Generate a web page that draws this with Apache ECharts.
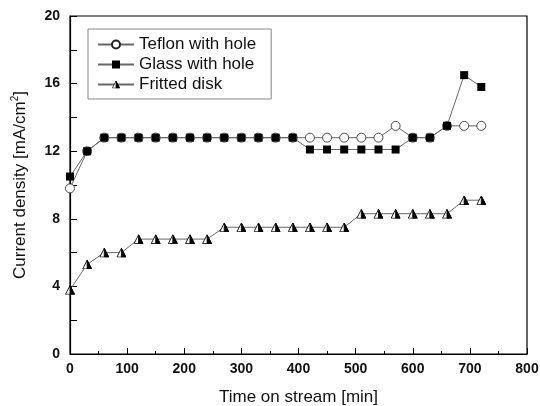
<!DOCTYPE html>
<html>
<head>
<meta charset="utf-8">
<script src="https://cdn.jsdelivr.net/npm/echarts@6/dist/echarts.min.js"></script>
<style>
  html, body { margin: 0; padding: 0; background: #fff; }
  #chart { width: 540px; height: 406px; }
</style>
</head>
<body>
<div id="chart"></div>
<script>
// Sampling times (min)
const timeMin = [0, 30, 60, 90, 120, 150, 180, 210, 240, 270, 300, 330, 360, 390,
                 420, 450, 480, 510, 540, 570, 600, 630, 660, 690, 720];

// Current density (mA/cm2) for each cell setup
const teflonHole = [9.8, 12.0, 12.8, 12.8, 12.8, 12.8, 12.8, 12.8, 12.8, 12.8, 12.8, 12.8, 12.8, 12.8,
                    12.8, 12.8, 12.8, 12.8, 12.8, 13.5, 12.8, 12.8, 13.5, 13.5, 13.5];
const glassHole  = [10.5, 12.0, 12.8, 12.8, 12.8, 12.8, 12.8, 12.8, 12.8, 12.8, 12.8, 12.8, 12.8, 12.8,
                    12.1, 12.1, 12.1, 12.1, 12.1, 12.1, 12.8, 12.8, 13.5, 16.5, 15.8];
const frittedDisk = [3.8, 5.3, 6.0, 6.0, 6.8, 6.8, 6.8, 6.8, 6.8, 7.5, 7.5, 7.5, 7.5, 7.5,
                     7.5, 7.5, 7.5, 8.3, 8.3, 8.3, 8.3, 8.3, 8.3, 9.1, 9.1];

const seriesNames = ['Teflon with hole', 'Glass with hole', 'Fritted disk'];

const pairs = ys => timeMin.map((t, i) => [t, ys[i]]);

// Half-filled triangle marker (white left half, black right half)
const triSvg = '<svg xmlns="http://www.w3.org/2000/svg" width="40" height="40" viewBox="0 0 40 40">' +
  '<polygon points="20,3 38,38 2,38" fill="#fff" stroke="#000" stroke-width="3.5" stroke-linejoin="miter"/>' +
  '<polygon points="20,3 38,38 20,38" fill="#000" stroke="#000" stroke-width="3.5"/></svg>';
const triSymbol = 'image://data:image/svg+xml;charset=utf-8,' + encodeURIComponent(triSvg);

const font = 'Arial, "Liberation Sans", Helvetica, sans-serif';
const lineStyle = { color: '#666', width: 1 };

const chart = echarts.init(document.getElementById('chart'), null, { renderer: 'canvas' });
chart.setOption({
  animation: false,
  backgroundColor: '#fff',
  grid: {
    left: 70, right: 13, top: 16, bottom: 52,
    outerBoundsMode: 'none',
    containLabel: false,
    show: true, borderColor: '#000', borderWidth: 1.2, backgroundColor: 'transparent'
  },
  legend: {
    left: 88, top: 29,
    orient: 'vertical',
    data: seriesNames,
    backgroundColor: '#fff',
    borderColor: '#888',
    borderWidth: 1,
    borderRadius: 0,
    padding: [7, 15, 6, 9],
    itemWidth: 36, itemHeight: 10, itemGap: 3,
    textStyle: { fontFamily: font, fontSize: 17, color: '#111' }
  },
  xAxis: {
    type: 'value', min: 0, max: 800, interval: 100,
    name: 'Time on stream [min]', nameLocation: 'middle', nameGap: 35,
    nameTextStyle: { fontFamily: font, fontSize: 17, color: '#111' },
    axisLine: { lineStyle: { color: '#000', width: 1.2 } },
    axisTick: { inside: true, length: 6, lineStyle: { color: '#000' } },
    minorTick: { show: true, splitNumber: 2, length: 3, lineStyle: { color: '#000' } },
    axisLabel: { fontFamily: font, fontSize: 14, fontWeight: 'bold', color: '#111', margin: 8 },
    splitLine: { show: false }
  },
  yAxis: {
    type: 'value', min: 0, max: 20, interval: 4,
    name: '{n|Current density [mA/cm}{s|2}{n|]}', nameLocation: 'middle', nameGap: 40,
    nameTextStyle: {
      fontFamily: font, fontSize: 17, color: '#111',
      rich: {
        n: { fontFamily: font, fontSize: 17, color: '#111' },
        s: { fontFamily: font, fontSize: 10, color: '#111', padding: [0, 0, 10, 0] }
      }
    },
    axisLine: { lineStyle: { color: '#000', width: 1.2 } },
    axisTick: { inside: true, length: 7, lineStyle: { color: '#000' } },
    minorTick: { show: true, splitNumber: 2, length: 7, lineStyle: { color: '#000' } },
    axisLabel: { fontFamily: font, fontSize: 14, fontWeight: 'bold', color: '#111', margin: 10 },
    splitLine: { show: false }
  },
  series: [
    {
      name: seriesNames[0], type: 'line', data: pairs(teflonHole),
      symbol: 'circle', symbolSize: 9, z: 2,
      lineStyle: lineStyle,
      itemStyle: { color: '#fff', borderColor: '#222', borderWidth: 0.8 }
    },
    {
      name: seriesNames[1], type: 'line', data: pairs(glassHole),
      symbol: 'rect', symbolSize: 8, z: 3,
      lineStyle: lineStyle,
      itemStyle: { color: '#000', borderColor: '#000', borderWidth: 0 }
    },
    {
      name: seriesNames[2], type: 'line', data: pairs(frittedDisk),
      symbol: triSymbol, symbolSize: 10, z: 2,
      lineStyle: lineStyle,
      itemStyle: { color: '#000' }
    }
  ]
});
</script>
</body>
</html>
